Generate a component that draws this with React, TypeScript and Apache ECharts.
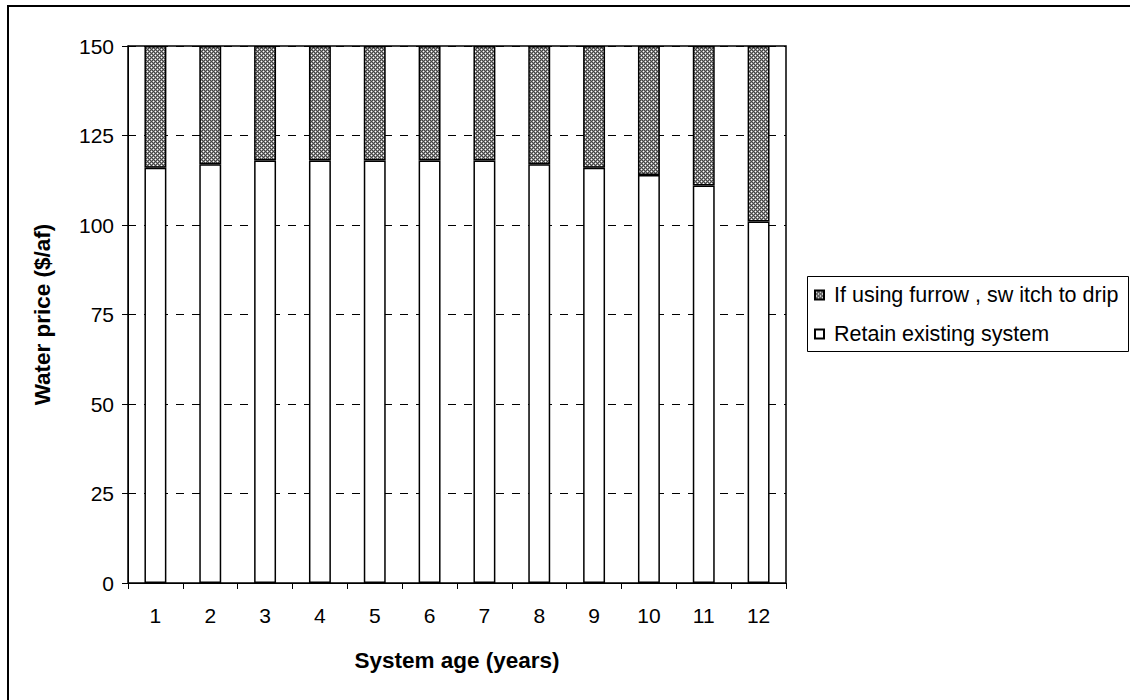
import React, { useEffect, useRef } from "react";
import * as echarts from "echarts";

const categories = ["1", "2", "3", "4", "5", "6", "7", "8", "9", "10", "11", "12"];
const retainValues = [116, 117, 118, 118, 118, 118, 118, 117, 116, 114, 111, 101];
const dripValues = [34, 33, 32, 32, 32, 32, 32, 33, 34, 36, 39, 49];
const yTicks = [0, 25, 50, 75, 100, 125, 150];
const seriesNames = ["If using furrow , sw itch to drip", "Retain existing system"];

const FONT = "'Liberation Sans', Arial, sans-serif";

function makePattern(): HTMLCanvasElement {
  const c = document.createElement("canvas");
  c.width = 4;
  c.height = 4;
  const ctx = c.getContext("2d")!;
  for (let y = 0; y < 4; y++) {
    for (let x = 0; x < 4; x++) {
      ctx.fillStyle = (x + y) % 2 === 0 ? "#444444" : "#909090";
      ctx.fillRect(x, y, 1, 1);
    }
  }
  ctx.fillStyle = "#ffffff";
  ctx.fillRect(1, 1, 1, 1);
  ctx.fillRect(3, 3, 1, 1);
  return c;
}

export default function App() {
  const ref = useRef<HTMLDivElement>(null);
  useEffect(() => {
    if (!ref.current) return;
    const chart = echarts.init(ref.current, null, { renderer: "svg" });
    const pattern = { image: makePattern(), repeat: "repeat" } as any;
    const gridLeft = 128;
    const gridTop = 46;
    const gridW = 658;
    const gridH = 537;
    chart.setOption({
      animation: false,
      backgroundColor: "#ffffff",
      textStyle: { fontFamily: FONT },
      grid: { left: gridLeft, top: gridTop, width: gridW, height: gridH },
      legend: {
        orient: "vertical",
        left: 814,
        top: 284,
        padding: 0,
        itemGap: 17,
        itemWidth: 9,
        itemHeight: 9,
        icon: "rect",
        data: seriesNames,
        textStyle: { fontFamily: FONT, fontSize: 21.5, color: "#000", lineHeight: 20, padding: [0, 0, 0, 5] },
      },
      xAxis: {
        type: "category",
        data: categories,
        boundaryGap: true,
        axisLine: { lineStyle: { color: "#000", width: 1 } },
        axisTick: { show: true, alignWithLabel: false, length: 6, lineStyle: { color: "#000" } },
        axisLabel: { color: "#000", fontSize: 21, fontFamily: FONT, margin: 22 },
        name: "System age (years)",
        nameLocation: "middle",
        nameGap: 66,
        nameTextStyle: { color: "#000", fontSize: 22.5, fontWeight: "bold", fontFamily: FONT },
      },
      yAxis: {
        type: "value",
        min: yTicks[0],
        max: yTicks[yTicks.length - 1],
        interval: 25,
        axisLine: { show: true, lineStyle: { color: "#000", width: 1 } },
        axisTick: { show: true, length: 6, lineStyle: { color: "#000" } },
        axisLabel: { color: "#000", fontSize: 21, fontFamily: FONT, margin: 14 },
        splitLine: { show: true, lineStyle: { color: "#000", type: [8, 8], width: 1 } },
        name: "Water price ($/af)",
        nameLocation: "middle",
        nameGap: 74,
        nameTextStyle: { color: "#000", fontSize: 22.5, fontWeight: "bold", fontFamily: FONT },
      },
      series: [
        {
          name: seriesNames[1],
          type: "bar",
          stack: "total",
          barWidth: "40%",
          data: retainValues,
          itemStyle: { color: "#ffffff", borderColor: "#000", borderWidth: 1.5 },
        },
        {
          name: seriesNames[0],
          type: "bar",
          stack: "total",
          barWidth: "40%",
          data: dripValues,
          itemStyle: { color: pattern, borderColor: "#000", borderWidth: 1.5 },
        },
      ],
      graphic: [
        {
          type: "rect",
          shape: { x: gridLeft, y: gridTop, width: gridW, height: gridH },
          style: { fill: "none", stroke: "#000", lineWidth: 1.5 },
          silent: true,
          z: 100,
        },
        {
          type: "rect",
          shape: { x: 807.5, y: 276.5, width: 321, height: 75 },
          style: { fill: "none", stroke: "#000", lineWidth: 1 },
          silent: true,
        },
        {
          type: "rect",
          shape: { x: 8, y: 6, width: 1200, height: 800 },
          style: { fill: "none", stroke: "#000", lineWidth: 2 },
          silent: true,
        },
      ],
    });
    return () => chart.dispose();
  }, []);
  return (
    <div
      ref={ref}
      style={{ position: "fixed", left: 0, top: 0, width: 1130, height: 700 }}
    />
  );
}
